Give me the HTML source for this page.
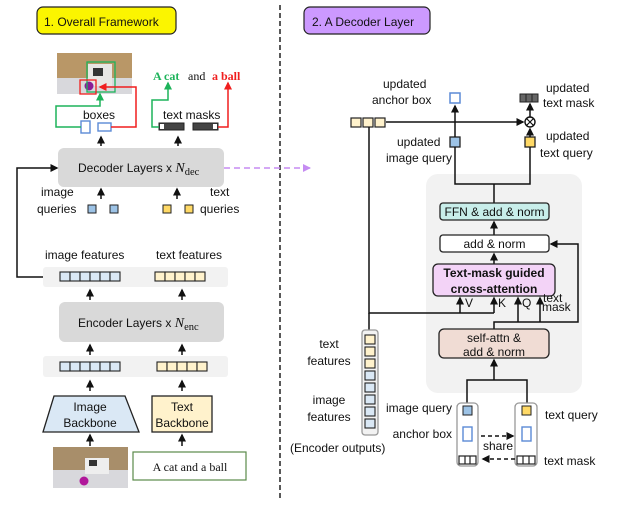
<!DOCTYPE html>
<html><head><meta charset="utf-8"><style>
body{margin:0;background:#fff}
svg{display:block}
text{font-family:"Liberation Sans",sans-serif;font-size:12px;fill:#111}
.s{font-family:"Liberation Serif",serif}
</style></head><body>
<svg width="630" height="512" viewBox="0 0 630 512" xmlns="http://www.w3.org/2000/svg">
<defs>
<marker id="a" markerWidth="9" markerHeight="9" refX="6.5" refY="4.5" orient="auto" markerUnits="userSpaceOnUse"><path d="M0,0.5 L8,4.5 L0,8.5z" fill="#111"/></marker>
<marker id="ag" markerWidth="9" markerHeight="9" refX="6.5" refY="4.5" orient="auto" markerUnits="userSpaceOnUse"><path d="M0,0.5 L8,4.5 L0,8.5z" fill="#1db35a"/></marker>
<marker id="ar" markerWidth="9" markerHeight="9" refX="6.5" refY="4.5" orient="auto" markerUnits="userSpaceOnUse"><path d="M0,0.5 L8,4.5 L0,8.5z" fill="#f01e1e"/></marker>
<marker id="ap" markerWidth="9" markerHeight="9" refX="7" refY="4.5" orient="auto" markerUnits="userSpaceOnUse"><path d="M0,0.5 L8,4.5 L0,8.5z" fill="#c58cf2"/></marker>
</defs>

<line x1="280" y1="5" x2="280" y2="500" stroke="#222" stroke-width="1.5" stroke-dasharray="5,3"/>

<rect x="37" y="7" width="139" height="27" rx="6" fill="#fbf500" stroke="#222" stroke-width="1.2"/>
<text x="44" y="26" font-size="13">1. Overall Framework</text>

<rect x="57" y="53" width="75" height="41" fill="#b99767"/>
<rect x="57" y="78" width="75" height="16" fill="#d8d8dc"/>
<rect x="88" y="64" width="24" height="22" fill="#e8e6e4"/>
<rect x="93" y="68" width="10" height="8" fill="#333"/>
<circle cx="89" cy="86" r="4.5" fill="#8a1d96"/>
<rect x="87" y="62" width="28" height="30" fill="none" stroke="#1db35a" stroke-width="1.3"/>
<rect x="80" y="80" width="16" height="14" fill="none" stroke="#f01e1e" stroke-width="1.3"/>

<text x="83" y="119">boxes</text>
<rect x="81" y="121" width="9" height="12" fill="#fff" stroke="#5b8ad6" stroke-width="1.4"/>
<rect x="98" y="123" width="13" height="8" fill="#fff" stroke="#5b8ad6" stroke-width="1.4"/>
<polyline points="81,127 56,127 56,106 100,106 100,94" fill="none" stroke="#1db35a" stroke-width="1.5" marker-end="url(#ag)"/>
<polyline points="111,127 136,127 136,87 100,87" fill="none" stroke="#f01e1e" stroke-width="1.5" marker-end="url(#ar)"/>

<text x="153" y="80" class="s" font-size="15" font-weight="bold" style="fill:#1db35a">A cat</text>
<text x="188" y="80" class="s" font-size="15">and</text>
<text x="212" y="80" class="s" font-size="15" font-weight="bold" style="fill:#f01e1e">a ball</text>

<text x="163" y="119">text masks</text>
<g stroke="#222" stroke-width="1">
<rect x="159" y="123" width="25" height="7" fill="#444"/>
<rect x="193" y="123" width="25" height="7" fill="#444"/>
</g>
<rect x="160" y="124" width="4" height="5" fill="#fff"/>
<rect x="213" y="124" width="4" height="5" fill="#fff"/>
<polyline points="159,127 152,127 152,100 168,100 168,83" fill="none" stroke="#1db35a" stroke-width="1.5" marker-end="url(#ag)"/>
<polyline points="218,127 228,127 228,83" fill="none" stroke="#f01e1e" stroke-width="1.5" marker-end="url(#ar)"/>

<g stroke="#111" stroke-width="1.5" fill="none" marker-end="url(#a)">
<line x1="101" y1="146" x2="101" y2="137"/>
<line x1="178" y1="146" x2="178" y2="137"/>
</g>

<rect x="58" y="148" width="166" height="39" rx="6" fill="#d9d9d9"/>
<text x="78" y="172" font-size="12.5">Decoder Layers x <tspan class="s" font-style="italic" font-size="14">N</tspan><tspan class="s" font-size="10.5" dy="3">dec</tspan></text>
<line x1="224" y1="168" x2="310" y2="168" stroke="#c58cf2" stroke-width="1.5" stroke-dasharray="6,4" marker-end="url(#ap)"/>

<polyline points="43,277 17,277 17,168 57,168" fill="none" stroke="#111" stroke-width="1.5" marker-end="url(#a)"/>

<text x="41" y="196">image</text>
<text x="37" y="213">queries</text>
<rect x="88" y="205" width="8" height="8" fill="#9dc3e6" stroke="#222"/>
<rect x="110" y="205" width="8" height="8" fill="#9dc3e6" stroke="#222"/>
<rect x="163" y="205" width="8" height="8" fill="#ffd966" stroke="#222"/>
<rect x="185" y="205" width="8" height="8" fill="#ffd966" stroke="#222"/>
<text x="210" y="196">text</text>
<text x="200" y="213">queries</text>
<g stroke="#111" stroke-width="1.5" fill="none" marker-end="url(#a)">
<line x1="101" y1="199" x2="101" y2="189"/>
<line x1="177" y1="199" x2="177" y2="189"/>
</g>

<text x="45" y="259">image features</text>
<text x="156" y="259">text features</text>
<rect x="43" y="267" width="185" height="20" rx="3" fill="#f2f2f2"/>
<g stroke="#222" stroke-width="1.1" fill="#dae8f5">
<rect x="60" y="272" width="10" height="9"/><rect x="70" y="272" width="10" height="9"/><rect x="80" y="272" width="10" height="9"/><rect x="90" y="272" width="10" height="9"/><rect x="100" y="272" width="10" height="9"/><rect x="110" y="272" width="10" height="9"/>
</g>
<g stroke="#222" stroke-width="1.1" fill="#fff2cc">
<rect x="155" y="272" width="10" height="9"/><rect x="165" y="272" width="10" height="9"/><rect x="175" y="272" width="10" height="9"/><rect x="185" y="272" width="10" height="9"/><rect x="195" y="272" width="10" height="9"/>
</g>
<g stroke="#111" stroke-width="1.5" fill="none" marker-end="url(#a)">
<line x1="90" y1="300" x2="90" y2="290"/>
<line x1="182" y1="300" x2="182" y2="290"/>
</g>

<rect x="59" y="302" width="165" height="40" rx="6" fill="#d9d9d9"/>
<text x="78" y="327" font-size="12.5">Encoder Layers x <tspan class="s" font-style="italic" font-size="14">N</tspan><tspan class="s" font-size="10.5" dy="3">enc</tspan></text>
<g stroke="#111" stroke-width="1.5" fill="none" marker-end="url(#a)">
<line x1="90" y1="355" x2="90" y2="345"/>
<line x1="182" y1="355" x2="182" y2="345"/>
</g>

<rect x="43" y="356" width="185" height="21" rx="3" fill="#f2f2f2"/>
<g stroke="#222" stroke-width="1.1" fill="#dae8f5">
<rect x="60" y="362" width="10" height="9"/><rect x="70" y="362" width="10" height="9"/><rect x="80" y="362" width="10" height="9"/><rect x="90" y="362" width="10" height="9"/><rect x="100" y="362" width="10" height="9"/><rect x="110" y="362" width="10" height="9"/>
</g>
<g stroke="#222" stroke-width="1.1" fill="#fff2cc">
<rect x="157" y="362" width="10" height="9"/><rect x="167" y="362" width="10" height="9"/><rect x="177" y="362" width="10" height="9"/><rect x="187" y="362" width="10" height="9"/><rect x="197" y="362" width="10" height="9"/>
</g>
<g stroke="#111" stroke-width="1.5" fill="none" marker-end="url(#a)">
<line x1="90" y1="391" x2="90" y2="381"/>
<line x1="182" y1="391" x2="182" y2="381"/>
</g>

<polygon points="54,396 125,396 139,432 43,432" fill="#dae8f5" stroke="#222" stroke-width="1.3"/>
<text x="90" y="411" text-anchor="middle">Image</text>
<text x="90" y="427" text-anchor="middle">Backbone</text>
<rect x="152" y="396" width="60" height="36" fill="#fff2cc" stroke="#222" stroke-width="1.3"/>
<text x="182" y="411" text-anchor="middle">Text</text>
<text x="182" y="427" text-anchor="middle">Backbone</text>
<g stroke="#111" stroke-width="1.5" fill="none" marker-end="url(#a)">
<line x1="90" y1="446" x2="90" y2="435"/>
<line x1="182" y1="446" x2="182" y2="435"/>
</g>

<rect x="53" y="447" width="75" height="41" fill="#a88e6a"/>
<rect x="53" y="470" width="75" height="18" fill="#d8d8dc"/>
<rect x="85" y="458" width="24" height="16" fill="#eeeeee"/>
<rect x="89" y="460" width="8" height="6" fill="#333"/>
<circle cx="84" cy="481" r="4.5" fill="#b0179a"/>
<rect x="133" y="452" width="113" height="28" fill="#fff" stroke="#5a8a4a" stroke-width="1.2"/>
<text x="190" y="471" class="s" font-size="14" text-anchor="middle">A cat and a ball</text>

<rect x="304" y="7" width="126" height="27" rx="6" fill="#cc99ff" stroke="#222" stroke-width="1.2"/>
<text x="312" y="26" font-size="13">2. A Decoder Layer</text>

<rect x="426" y="174" width="156" height="219" rx="12" fill="#f2f2f2"/>

<g stroke="#222" stroke-width="1.2" fill="#fff2cc">
<rect x="351" y="118" width="10" height="9"/><rect x="363" y="118" width="10" height="9"/><rect x="375" y="118" width="10" height="9"/>
</g>
<line x1="386" y1="122" x2="523" y2="122" stroke="#111" stroke-width="1.5" marker-end="url(#a)"/>
<circle cx="530" cy="122" r="5" fill="#fff" stroke="#111" stroke-width="1.4"/>
<path d="M526.5,118.5 L533.5,125.5 M533.5,118.5 L526.5,125.5" stroke="#111" stroke-width="1.2"/>

<text x="383" y="88">updated</text>
<text x="372" y="104">anchor box</text>
<rect x="450" y="93" width="10" height="10" fill="#fff" stroke="#5b8ad6" stroke-width="1.5"/>
<text x="546" y="92">updated</text>
<text x="543" y="107">text mask</text>
<rect x="520" y="94" width="18" height="8" fill="#666" stroke="#222"/>
<line x1="526" y1="94" x2="526" y2="102" stroke="#222"/><line x1="532" y1="94" x2="532" y2="102" stroke="#222"/>
<text x="397" y="146">updated</text>
<text x="386" y="162">image query</text>
<rect x="450" y="137" width="10" height="10" fill="#9dc3e6" stroke="#222" stroke-width="1.3"/>
<text x="546" y="140">updated</text>
<text x="540" y="157">text query</text>
<rect x="525" y="137" width="10" height="10" fill="#ffd966" stroke="#222" stroke-width="1.3"/>

<g stroke="#111" stroke-width="1.5" fill="none">
<line x1="455" y1="137" x2="455" y2="106" marker-end="url(#a)"/>
<line x1="530" y1="117" x2="530" y2="104" marker-end="url(#a)"/>
<line x1="530" y1="137" x2="530" y2="129" marker-end="url(#a)"/>
<polyline points="455,147 455,184 530,184 530,147"/>
<line x1="494" y1="184" x2="494" y2="203"/>
<line x1="494" y1="235" x2="494" y2="222" marker-end="url(#a)"/>
<line x1="494" y1="264" x2="494" y2="254" marker-end="url(#a)"/>
<polyline points="369,127 369,313 494,313"/>
<line x1="369" y1="313" x2="369" y2="330"/>
<line x1="460" y1="313" x2="460" y2="298" marker-end="url(#a)"/>
<line x1="494" y1="313" x2="494" y2="298" marker-end="url(#a)"/>
<polyline points="494,329 494,322 578,322 578,244 551,244" marker-end="url(#a)"/>
<line x1="518" y1="322" x2="518" y2="298" marker-end="url(#a)"/>
<line x1="540" y1="322" x2="540" y2="298" marker-end="url(#a)"/>
<line x1="494" y1="380" x2="494" y2="360" marker-end="url(#a)"/>
<polyline points="467,403 467,380 527,380 527,403"/>
</g>

<rect x="440" y="203" width="109" height="17" rx="3" fill="#c8eeea" stroke="#222" stroke-width="1.3"/>
<text x="494.5" y="216" text-anchor="middle">FFN &amp; add &amp; norm</text>
<rect x="440" y="235" width="109" height="17" rx="3" fill="#fff" stroke="#222" stroke-width="1.3"/>
<text x="494.5" y="248" text-anchor="middle">add &amp; norm</text>
<rect x="433" y="264" width="122" height="32" rx="5" fill="#f3d3f7" stroke="#222" stroke-width="1.3"/>
<text x="494" y="277" text-anchor="middle" font-weight="bold">Text-mask guided</text>
<text x="494" y="293" text-anchor="middle" font-weight="bold">cross-attention</text>
<text x="465" y="307">V</text><text x="498" y="307">K</text><text x="522" y="307">Q</text>
<text x="543" y="302" font-size="11">text</text><text x="542" y="311" font-size="11">mask</text>

<rect x="439" y="329" width="110" height="29" rx="5" fill="#f0dcd4" stroke="#222" stroke-width="1.3"/>
<text x="494" y="342" text-anchor="middle">self-attn &amp;</text>
<text x="494" y="356" text-anchor="middle">add &amp; norm</text>

<rect x="362" y="330" width="16" height="105" rx="3" fill="#f2f2f2" stroke="#999" stroke-width="1.3"/>
<g stroke="#222" stroke-width="1.1">
<rect x="365" y="335" width="10" height="9" fill="#fff2cc"/><rect x="365" y="347" width="10" height="9" fill="#fff2cc"/><rect x="365" y="359" width="10" height="9" fill="#fff2cc"/>
<rect x="365" y="371" width="10" height="9" fill="#dae8f5"/><rect x="365" y="383" width="10" height="9" fill="#dae8f5"/><rect x="365" y="395" width="10" height="9" fill="#dae8f5"/><rect x="365" y="407" width="10" height="9" fill="#dae8f5"/><rect x="365" y="419" width="10" height="9" fill="#dae8f5"/>
</g>
<text x="329" y="348" text-anchor="middle">text</text>
<text x="329" y="365" text-anchor="middle">features</text>
<text x="329" y="404" text-anchor="middle">image</text>
<text x="329" y="421" text-anchor="middle">features</text>
<text x="290" y="452">(Encoder outputs)</text>

<rect x="457" y="403" width="21" height="63" rx="4" fill="#fff" stroke="#999" stroke-width="1.3"/>
<rect x="515" y="403" width="22" height="63" rx="4" fill="#fff" stroke="#999" stroke-width="1.3"/>
<rect x="463" y="406" width="9" height="9" fill="#9dc3e6" stroke="#222"/>
<rect x="522" y="406" width="9" height="9" fill="#ffd966" stroke="#222"/>
<rect x="463" y="427" width="9" height="14" fill="#fff" stroke="#5b8ad6" stroke-width="1.4"/>
<rect x="522" y="427" width="9" height="14" fill="#fff" stroke="#5b8ad6" stroke-width="1.4"/>
<g stroke="#222" stroke-width="1.2" fill="#fff">
<rect x="459" y="456" width="17" height="8"/><line x1="465" y1="456" x2="465" y2="464"/><line x1="470" y1="456" x2="470" y2="464"/>
<rect x="517" y="456" width="18" height="8"/><line x1="523" y1="456" x2="523" y2="464"/><line x1="529" y1="456" x2="529" y2="464"/>
</g>
<line x1="481" y1="436" x2="513" y2="436" stroke="#111" stroke-width="1.4" stroke-dasharray="4,3" marker-end="url(#a)"/>
<line x1="515" y1="459" x2="483" y2="459" stroke="#111" stroke-width="1.4" stroke-dasharray="4,3" marker-end="url(#a)"/>
<text x="498" y="450" text-anchor="middle" font-size="11">share</text>
<text x="452" y="412" text-anchor="end">image query</text>
<text x="452" y="438" text-anchor="end">anchor box</text>
<text x="545" y="419">text query</text>
<text x="544" y="465">text mask</text>
</svg>
</body></html>
